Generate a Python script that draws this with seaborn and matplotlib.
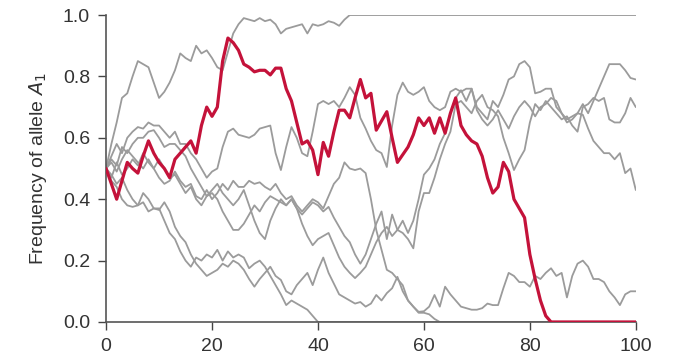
import numpy as np
import pandas as pd
import seaborn as sns
import matplotlib
matplotlib.use("Agg")
import matplotlib.pyplot as plt

generations = list(range(0, 101))

pop_red = [
    0.50, 0.45, 0.40, 0.46, 0.52, 0.50, 0.485, 0.54, 0.59, 0.55,
    0.52, 0.50, 0.47, 0.53, 0.55, 0.57, 0.59, 0.55, 0.64, 0.70,
    0.67, 0.70, 0.85, 0.925, 0.91, 0.885, 0.84, 0.83, 0.815, 0.82,
    0.82, 0.805, 0.827, 0.827, 0.76, 0.72, 0.65, 0.58, 0.59, 0.56,
    0.48, 0.585, 0.54, 0.62, 0.69, 0.69, 0.665, 0.73, 0.79, 0.73,
    0.745, 0.625, 0.655, 0.685, 0.60, 0.52, 0.545, 0.57, 0.61, 0.665,
    0.64, 0.665, 0.615, 0.665, 0.615, 0.68, 0.73, 0.64, 0.61, 0.59,
    0.58, 0.54, 0.47, 0.42, 0.44, 0.52, 0.49, 0.40, 0.37, 0.34,
    0.22, 0.14, 0.07, 0.02, 0.0, 0.0, 0.0, 0.0, 0.0, 0.0,
    0.0, 0.0, 0.0, 0.0, 0.0, 0.0, 0.0, 0.0, 0.0, 0.0, 0.0]

pop_fixed = [
    0.50, 0.58, 0.65, 0.73, 0.745, 0.80, 0.85, 0.84, 0.83, 0.78,
    0.73, 0.75, 0.78, 0.82, 0.875, 0.86, 0.85, 0.90, 0.875, 0.885,
    0.86, 0.83, 0.82, 0.88, 0.94, 0.97, 0.99, 0.985, 0.98, 0.99,
    0.98, 0.985, 0.97, 0.94, 0.955, 0.96, 0.965, 0.97, 0.94, 0.97,
    0.965, 0.97, 0.98, 0.975, 0.965, 0.985, 1.0, 1.0, 1.0, 1.0,
    1.0, 1.0, 1.0, 1.0, 1.0, 1.0, 1.0, 1.0, 1.0, 1.0,
    1.0, 1.0, 1.0, 1.0, 1.0, 1.0, 1.0, 1.0, 1.0, 1.0,
    1.0, 1.0, 1.0, 1.0, 1.0, 1.0, 1.0, 1.0, 1.0, 1.0,
    1.0, 1.0, 1.0, 1.0, 1.0, 1.0, 1.0, 1.0, 1.0, 1.0,
    1.0, 1.0, 1.0, 1.0, 1.0, 1.0, 1.0, 1.0, 1.0, 1.0, 1.0]

pop_g2 = [
    0.50, 0.54, 0.58, 0.55, 0.60, 0.62, 0.635, 0.63, 0.65, 0.64,
    0.64, 0.62, 0.60, 0.62, 0.58, 0.58, 0.55, 0.53, 0.50, 0.47,
    0.49, 0.50, 0.57, 0.62, 0.63, 0.61, 0.605, 0.60, 0.61, 0.63,
    0.635, 0.64, 0.55, 0.495, 0.57, 0.635, 0.60, 0.55, 0.54, 0.62,
    0.71, 0.72, 0.71, 0.72, 0.70, 0.73, 0.765, 0.74, 0.665, 0.63,
    0.59, 0.56, 0.55, 0.505, 0.64, 0.74, 0.78, 0.75, 0.74, 0.75,
    0.765, 0.72, 0.70, 0.69, 0.70, 0.75, 0.76, 0.75, 0.76, 0.76,
    0.70, 0.68, 0.66, 0.72, 0.70, 0.74, 0.79, 0.80, 0.84, 0.85,
    0.83, 0.745, 0.75, 0.76, 0.76, 0.70, 0.68, 0.65, 0.66, 0.68,
    0.71, 0.68, 0.72, 0.76, 0.80, 0.84, 0.84, 0.84, 0.82, 0.795, 0.79]

pop_g3 = [
    0.50, 0.53, 0.51, 0.57, 0.55, 0.58, 0.60, 0.60, 0.62, 0.625,
    0.60, 0.57, 0.58, 0.58, 0.56, 0.54, 0.50, 0.47, 0.44, 0.41,
    0.42, 0.40, 0.36, 0.33, 0.30, 0.30, 0.32, 0.35, 0.38, 0.36,
    0.39, 0.41, 0.40, 0.39, 0.38, 0.40, 0.37, 0.35, 0.37, 0.39,
    0.38, 0.36, 0.375, 0.34, 0.31, 0.28, 0.26, 0.22, 0.19, 0.22,
    0.27, 0.32, 0.36, 0.27, 0.35, 0.30, 0.29, 0.27, 0.24, 0.36,
    0.42, 0.42, 0.47, 0.53, 0.58, 0.62, 0.71, 0.72, 0.70, 0.68,
    0.72, 0.74, 0.70, 0.69, 0.67, 0.60, 0.55, 0.495, 0.53, 0.56,
    0.65, 0.71, 0.69, 0.72, 0.70, 0.68, 0.66, 0.67, 0.64, 0.62,
    0.70, 0.71, 0.73, 0.72, 0.73, 0.66, 0.65, 0.65, 0.68, 0.73, 0.70]

pop_g4 = [
    0.50, 0.47, 0.52, 0.48, 0.50, 0.53, 0.51, 0.55, 0.52, 0.50,
    0.53, 0.50, 0.47, 0.48, 0.45, 0.42, 0.44, 0.40, 0.38, 0.41,
    0.43, 0.45, 0.42, 0.40, 0.38, 0.40, 0.43, 0.38, 0.33, 0.29,
    0.27, 0.33, 0.37, 0.40, 0.38, 0.40, 0.37, 0.32, 0.28, 0.25,
    0.27, 0.28, 0.29, 0.25, 0.21, 0.18, 0.16, 0.143, 0.16, 0.18,
    0.22, 0.26, 0.29, 0.31, 0.28, 0.30, 0.33, 0.29, 0.33, 0.40,
    0.48, 0.50, 0.53, 0.58, 0.615, 0.68, 0.73, 0.755, 0.72, 0.76,
    0.69, 0.66, 0.64, 0.66, 0.69, 0.66, 0.63, 0.67, 0.70, 0.72,
    0.70, 0.67, 0.70, 0.71, 0.73, 0.72, 0.68, 0.66, 0.67, 0.68,
    0.675, 0.63, 0.59, 0.57, 0.55, 0.55, 0.53, 0.55, 0.485, 0.50, 0.43]

pop_g5 = [
    0.50, 0.46, 0.44, 0.40, 0.38, 0.375, 0.38, 0.42, 0.40, 0.37,
    0.365, 0.39, 0.36, 0.31, 0.28, 0.26, 0.22, 0.19, 0.17, 0.15,
    0.16, 0.17, 0.19, 0.18, 0.20, 0.19, 0.17, 0.14, 0.115, 0.14,
    0.16, 0.18, 0.15, 0.137, 0.10, 0.09, 0.12, 0.14, 0.16, 0.12,
    0.17, 0.21, 0.16, 0.125, 0.09, 0.08, 0.07, 0.06, 0.065, 0.05,
    0.06, 0.088, 0.07, 0.094, 0.11, 0.147, 0.10, 0.07, 0.05, 0.033,
    0.035, 0.05, 0.088, 0.05, 0.115, 0.09, 0.07, 0.05, 0.045, 0.04,
    0.04, 0.045, 0.06, 0.055, 0.055, 0.11, 0.16, 0.15, 0.13, 0.13,
    0.115, 0.15, 0.14, 0.16, 0.175, 0.15, 0.16, 0.08, 0.15, 0.19,
    0.20, 0.18, 0.14, 0.14, 0.13, 0.10, 0.08, 0.055, 0.09, 0.10, 0.10]

pop_l1 = [
    0.50, 0.48, 0.45, 0.47, 0.43, 0.40, 0.38, 0.39, 0.36, 0.37,
    0.37, 0.33, 0.29, 0.27, 0.23, 0.20, 0.18, 0.21, 0.20, 0.22,
    0.21, 0.235, 0.20, 0.23, 0.21, 0.22, 0.21, 0.175, 0.19, 0.20,
    0.18, 0.15, 0.12, 0.09, 0.055, 0.07, 0.06, 0.05, 0.04, 0.02,
    0.0, 0.0, 0.0, 0.0, 0.0, 0.0, 0.0, 0.0, 0.0, 0.0,
    0.0, 0.0, 0.0, 0.0, 0.0, 0.0, 0.0, 0.0, 0.0, 0.0,
    0.0, 0.0, 0.0, 0.0, 0.0, 0.0, 0.0, 0.0, 0.0, 0.0,
    0.0, 0.0, 0.0, 0.0, 0.0, 0.0, 0.0, 0.0, 0.0, 0.0,
    0.0, 0.0, 0.0, 0.0, 0.0, 0.0, 0.0, 0.0, 0.0, 0.0,
    0.0, 0.0, 0.0, 0.0, 0.0, 0.0, 0.0, 0.0, 0.0, 0.0, 0.0]

pop_l2 = [
    0.50, 0.52, 0.49, 0.53, 0.56, 0.54, 0.52, 0.50, 0.53, 0.50,
    0.47, 0.45, 0.46, 0.49, 0.46, 0.44, 0.45, 0.41, 0.40, 0.43,
    0.40, 0.42, 0.45, 0.43, 0.46, 0.44, 0.44, 0.46, 0.45, 0.455,
    0.44, 0.43, 0.45, 0.42, 0.40, 0.41, 0.38, 0.36, 0.38, 0.40,
    0.39, 0.37, 0.41, 0.45, 0.47, 0.52, 0.50, 0.495, 0.50, 0.485,
    0.40, 0.30, 0.235, 0.17, 0.16, 0.14, 0.12, 0.07, 0.05, 0.03,
    0.03, 0.025, 0.01, 0.0, 0.0, 0.0, 0.0, 0.0, 0.0, 0.0,
    0.0, 0.0, 0.0, 0.0, 0.0, 0.0, 0.0, 0.0, 0.0, 0.0,
    0.0, 0.0, 0.0, 0.0, 0.0, 0.0, 0.0, 0.0, 0.0, 0.0,
    0.0, 0.0, 0.0, 0.0, 0.0, 0.0, 0.0, 0.0, 0.0, 0.0, 0.0]

gray_pops = {
    "fixed": pop_fixed, "g2": pop_g2, "g3": pop_g3, "g4": pop_g4,
    "g5": pop_g5, "l1": pop_l1, "l2": pop_l2,
}

x_ticks = [0, 20, 40, 60, 80, 100]
y_ticks = [0.0, 0.2, 0.4, 0.6, 0.8, 1.0]
y_tick_labels = ["0.0", "0.2", "0.4", "0.6", "0.8", "1.0"]

gray_df = pd.concat(
    [pd.DataFrame({"gen": generations, "freq": v, "pop": k}) for k, v in gray_pops.items()],
    ignore_index=True)
red_df = pd.DataFrame({"gen": generations, "freq": pop_red})

sns.set_theme(style="ticks")
plt.rcParams["font.family"] = ["Liberation Sans", "DejaVu Sans"]

fig = plt.figure(figsize=(6.8, 3.58), dpi=100)
ax = fig.add_axes([0.156, 0.1006, 0.779, 0.8574])

GRAY = "#9b9b9b"
RED = "#c4123a"

sns.lineplot(data=gray_df, x="gen", y="freq", units="pop", estimator=None,
             color=GRAY, linewidth=1.3, ax=ax, legend=False, zorder=2)
sns.lineplot(data=red_df, x="gen", y="freq", estimator=None,
             color=RED, linewidth=2.3, ax=ax, legend=False, zorder=3)

ax.set_xlim(0, 100)
ax.set_ylim(0, 1.0)
ax.set_xticks(x_ticks)
ax.set_yticks(y_ticks)
ax.set_yticklabels(y_tick_labels)
ax.tick_params(axis="both", labelsize=14, length=5.5, width=1.0, color="#444444",
               labelcolor="#333333", direction="out", pad=6)
for s in ["top", "right"]:
    ax.spines[s].set_visible(False)
for s in ["left", "bottom"]:
    ax.spines[s].set_color("#555555")
    ax.spines[s].set_linewidth(1.2)
ax.spines["left"].set_bounds(0, 1)
ax.spines["bottom"].set_bounds(0, 100)
ax.set_xlabel("")
ax.set_ylabel("Frequency of allele $\\mathit{A}_{\\mathit{1}}$", fontsize=14,
              color="#333333", labelpad=10)
for spine in ax.spines.values():
    spine.set_clip_on(False)
ax.patch.set_alpha(0)

fig.savefig("out.png", dpi=100)
